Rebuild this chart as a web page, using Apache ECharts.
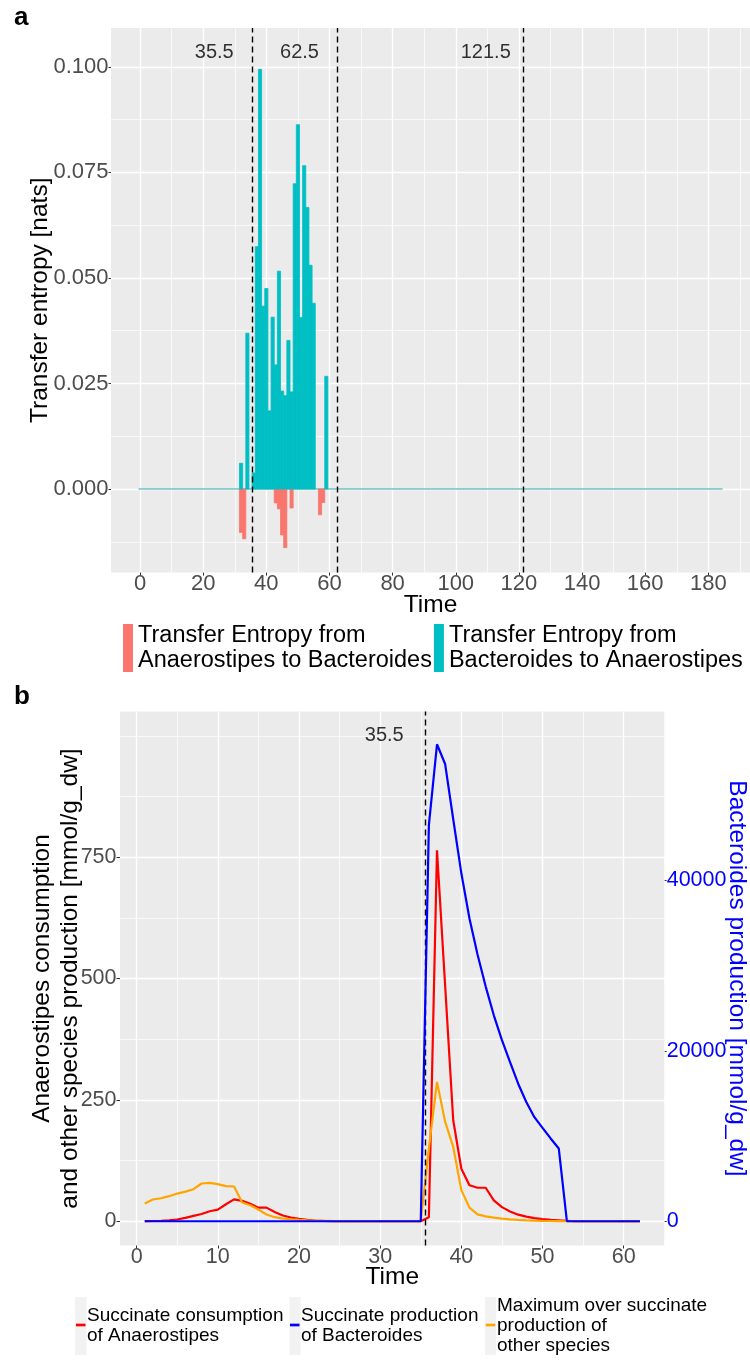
<!DOCTYPE html>
<html>
<head>
<meta charset="utf-8">
<script src="https://cdn.jsdelivr.net/npm/echarts@6/dist/echarts.min.js"></script>
<style>html,body{margin:0;padding:0;background:#fff}#c{width:750px;height:1360px}</style>
</head>
<body>
<div id="c"></div>
<script>
// ---------------- Panel a data ----------------
const timeSpanA = [0, 184];
const timesBtoA = [32,34,36,37,38,39,40,41,42,43,44,45,46,47,48,49,50,51,52,53,54,55,59];
const teBtoA = [0.0061,0.0369,0.0038,0.0574,0.0994,0.0433,0.0475,0.0185,0.0407,0.0294,0.0516,0.0232,0.0221,0.0352,0.0230,0.0723,0.0863,0.0406,0.0766,0.0667,0.0530,0.0440,0.0267];
const timesAtoB = [32,33,43,44,45,46,48,57,58];
const teAtoB = [-0.0103,-0.0118,-0.0033,-0.0047,-0.0109,-0.0139,-0.0045,-0.0061,-0.0032];
const cutsA = [35.5, 62.5, 121.5];
const ticksXA = [0,20,40,60,80,100,120,140,160,180];
const minorXA = [10,30,50,70,90,110,130,150,170,190];
const ticksYA = [0,0.025,0.05,0.075,0.1];
const minorYA = [-0.0125,0.0125,0.0375,0.0625,0.0875];
const labelYA = 0.1033;
const labelShiftA = 12;

// ---------------- Panel b data ----------------
const timeB = [1,2,3,4,5,6,7,8,9,10,11,12,13,14,15,16,17,18,19,20,21,22,23,24,25,26,27,28,29,30,31,32,33,34,35,36,37,38,39,40,41,42,43,44,45,46,47,48,49,50,51,52,53,54,55,56,57,58,59,60,61,62];
const redB = [0.2,0.5,1.0,1.8,3.5,6.9,11,15,20.6,24,35,45,42,36,28,28,19,11.7,7.6,4.8,2.7,1.5,0.8,0.4,0.2,0.1,
  0,0,0,0,0,0,0,0,0,
  8,764,486,208,108,74,69,69,43,29,20,13.5,9.5,6.5,4.5,3,2,1,
  0,0,0,0,0,0,0,0,0];
const orangeB = [36.4,44.7,47.4,51.6,57,61,66,77.7,79,76.3,72.2,71.5,38.5,33,24,13.8,8.3,5.5,4.1,2.8,2,1.4,1,0.6,0.4,0.2,0.1,
  0,0,0,0,0,0,0,0,
  150,287,205,153,64,28,14,10,7.5,5.5,4,2.8,1.8,1.2,0.8,0.5,0.3,0,
  0,0,0,0,0,0,0,0,0];
const blueB = [0,0,0,0,0,0,0,0,0,0,0,0,0,0,0,0,0,0,0,0,0,0,0,0,0,0,0,0,0,0,0,0,0,0,0,
  46520,56000,53690,47200,40850,35540,31290,27550,24180,21260,18680,16150,14000,12220,10970,9720,8540,0,
  0,0,0,0,0,0,0,0,0];
const cutsB = [35.5];
const ticksXB = [0,10,20,30,40,50,60];
const minorXB = [5,15,25,35,45,55,65];
const ticksYB = [0,250,500,750];
const minorYB = [125,375,625,875,1000];
const ticksYB2 = [0,20000,40000];
const secScale = 57;
const labelYB = 1000;
const labelShiftB = 5;

// ---------------- helpers ----------------
const FONT = 'Liberation Sans';
const nameAtoB = 'Transfer Entropy from Anaerostipes to Bacteroides';
const nameBtoA = 'Transfer Entropy from Bacteroides to Anaerostipes';
const nameRed = 'Succinate consumption of Anaerostipes';
const nameBlue = 'Succinate production of Bacteroides';
const nameOrange = 'Maximum over succinate production of other species';

function majorAxis(o) {
  return {
    type: 'value', gridIndex: o.grid, min: o.min, max: o.max, position: o.position,
    axisLine: {show: false, onZero: false},
    axisTick: {show: true, customValues: o.ticks, length: o.tickLen, lineStyle: {color: '#333333', width: 1}},
    axisLabel: {show: true, customValues: o.ticks, margin: o.margin, fontSize: o.fontSize,
      color: o.color || '#4D4D4D', fontFamily: FONT, formatter: o.formatter},
    splitLine: {show: o.split !== false, lineStyle: {color: '#FFFFFF', width: 1.4}}
  };
}
function minorAxis(grid, min, max, vals, position) {
  return {
    type: 'value', gridIndex: grid, min: min, max: max, position: position,
    axisLine: {show: false, onZero: false},
    axisTick: {show: false, customValues: vals},
    axisLabel: {show: false, customValues: vals},
    splitLine: {show: true, lineStyle: {color: '#FFFFFF', width: 0.7}}
  };
}
function barItem(params, api) {
  const t = api.value(0), v = api.value(1);
  const p0 = api.coord([t - 0.5, 0]);
  const p1 = api.coord([t + 0.5, v]);
  const col = api.visual('color');
  return {
    type: 'rect',
    shape: {x: p0[0], y: Math.min(p0[1], p1[1]), width: p1[0] - p0[0], height: Math.abs(p1[1] - p0[1])},
    style: {fill: col, stroke: col, lineWidth: 0.8}
  };
}
const dashed = {type: [6, 4], color: '#000000', width: 1.4};

const yMinA = -0.0198, yMaxA = 0.1092;
const xMinA = -9.2, xMaxA = 193.2;
const xMinB = -2.05, xMaxB = 65.05;
const yMinB = -50, yMaxB = 1050;

const option = {
  animation: false,
  textStyle: {fontFamily: FONT},
  grid: [
    {left: 111, top: 28, width: 639, height: 544.6, show: true, backgroundColor: '#EBEBEB', borderWidth: 0, containLabel: false, outerBoundsMode: 'none'},
    {left: 120, top: 711.5, width: 544.7, height: 534, show: true, backgroundColor: '#EBEBEB', borderWidth: 0, containLabel: false, outerBoundsMode: 'none'}
  ],
  xAxis: [
    majorAxis({grid: 0, min: xMinA, max: xMaxA, position: 'bottom', ticks: ticksXA, tickLen: 3, margin: 0.5, fontSize: 22}),
    minorAxis(0, xMinA, xMaxA, minorXA, 'bottom'),
    majorAxis({grid: 1, min: xMinB, max: xMaxB, position: 'bottom', ticks: ticksXB, tickLen: 3, margin: 0.5, fontSize: 21.5}),
    minorAxis(1, xMinB, xMaxB, minorXB, 'bottom')
  ],
  yAxis: [
    majorAxis({grid: 0, min: yMinA, max: yMaxA, position: 'left', ticks: ticksYA, tickLen: 2.5, margin: 2.5, fontSize: 22,
      formatter: v => Number(v).toFixed(3)}),
    minorAxis(0, yMinA, yMaxA, minorYA, 'left'),
    majorAxis({grid: 1, min: yMinB, max: yMaxB, position: 'left', ticks: ticksYB, tickLen: 3.5, margin: 3.5, fontSize: 21.5,
      formatter: v => String(v)}),
    minorAxis(1, yMinB, yMaxB, minorYB, 'left'),
    majorAxis({grid: 1, min: yMinB * secScale, max: yMaxB * secScale, position: 'right', ticks: ticksYB2, tickLen: 2, margin: 2, fontSize: 21.5,
      color: '#0000FF', split: false, formatter: v => String(v)})
  ],
  legend: {
    left: 123, top: 623, padding: 0, orient: 'horizontal', itemWidth: 10, itemHeight: 48, itemGap: 2,
    icon: 'rect', selectedMode: false, data: [nameAtoB, nameBtoA],
    formatter: n => n.replace('from ', 'from\n'),
    textStyle: {fontSize: 23.5, lineHeight: 25, color: '#000000', fontFamily: FONT}
  },
  series: [
    {type: 'line', name: 'zeroA', xAxisIndex: 0, yAxisIndex: 0, silent: true, symbol: 'none', z: 2,
      data: [[timeSpanA[0] - 0.5, 0], [timeSpanA[1] + 0.5, 0]],
      lineStyle: {color: '#2AA6AA', width: 1}},
    {type: 'custom', name: nameAtoB, xAxisIndex: 0, yAxisIndex: 0, renderItem: barItem, z: 3,
      itemStyle: {color: '#F8766D'}, encode: {x: 0, y: 1},
      data: timesAtoB.map((t, i) => [t, teAtoB[i]])},
    {type: 'custom', name: nameBtoA, xAxisIndex: 0, yAxisIndex: 0, renderItem: barItem, z: 3,
      itemStyle: {color: '#00BFC4'}, encode: {x: 0, y: 1},
      data: timesBtoA.map((t, i) => [t, teBtoA[i]]),
      markLine: {silent: true, symbol: ['none', 'none'], label: {show: false}, lineStyle: dashed,
        data: cutsA.map(c => ({xAxis: c}))}},
    {type: 'scatter', name: 'cutLabelsA', xAxisIndex: 0, yAxisIndex: 0, silent: true, symbolSize: 0, z: 6,
      data: cutsA.map(c => [c - labelShiftA, labelYA, c]),
      label: {show: true, position: 'inside', formatter: p => String(p.data[2]), fontSize: 20, color: '#000000', fontFamily: FONT}},

    {type: 'line', name: nameRed, xAxisIndex: 2, yAxisIndex: 2, symbol: 'none', z: 3,
      data: timeB.map((t, i) => [t, redB[i]]),
      lineStyle: {color: '#FF0000', width: 2.2}, itemStyle: {color: '#FF0000'}},
    {type: 'line', name: nameOrange, xAxisIndex: 2, yAxisIndex: 2, symbol: 'none', z: 4,
      data: timeB.map((t, i) => [t, orangeB[i]]),
      lineStyle: {color: '#FFA500', width: 2.2}, itemStyle: {color: '#FFA500'}},
    {type: 'line', name: nameBlue, xAxisIndex: 2, yAxisIndex: 4, symbol: 'none', z: 5,
      data: timeB.map((t, i) => [t, blueB[i]]),
      lineStyle: {color: '#0000FF', width: 2.2}, itemStyle: {color: '#0000FF'},
      markLine: {silent: true, symbol: ['none', 'none'], label: {show: false}, lineStyle: dashed,
        data: cutsB.map(c => ({xAxis: c}))}},
    {type: 'scatter', name: 'cutLabelsB', xAxisIndex: 2, yAxisIndex: 2, silent: true, symbolSize: 0, z: 6,
      data: cutsB.map(c => [c - labelShiftB, labelYB, c]),
      label: {show: true, position: 'inside', formatter: p => String(p.data[2]), fontSize: 20, color: '#000000', fontFamily: FONT}}
  ],
  graphic: [
    {type: 'text', x: 14, y: 17.5, style: {text: 'a', fontSize: 26, fontWeight: 'bold', fontFamily: FONT, fill: '#000', align: 'left', verticalAlign: 'middle'}},
    {type: 'text', x: 14, y: 697, style: {text: 'b', fontSize: 26, fontWeight: 'bold', fontFamily: FONT, fill: '#000', align: 'left', verticalAlign: 'middle'}},
    {type: 'text', x: 40, y: 300.3, rotation: Math.PI / 2, style: {text: 'Transfer entropy [nats]', fontSize: 24.5, fontFamily: FONT, fill: '#000', align: 'center', verticalAlign: 'middle'}},
    {type: 'text', x: 430.5, y: 605, style: {text: 'Time', fontSize: 24.5, fontFamily: FONT, fill: '#000', align: 'center', verticalAlign: 'middle'}},
    {type: 'text', x: 56, y: 978.5, rotation: Math.PI / 2, style: {text: 'Anaerostipes consumption\nand other species production [mmol/g_dw]', fontSize: 24.5, lineHeight: 28, fontFamily: FONT, fill: '#000', align: 'center', verticalAlign: 'middle'}},
    {type: 'text', x: 737, y: 978.5, rotation: -Math.PI / 2, style: {text: 'Bacteroides production [mmol/g_dw]', fontSize: 24.5, fontFamily: FONT, fill: '#0000FF', align: 'center', verticalAlign: 'middle'}},
    {type: 'text', x: 392.3, y: 1277, style: {text: 'Time', fontSize: 24.5, fontFamily: FONT, fill: '#000', align: 'center', verticalAlign: 'middle'}},
    // legend b
    {type: 'rect', shape: {x: 75, y: 1297, width: 11.7, height: 58}, style: {fill: '#F2F2F2'}},
    {type: 'line', shape: {x1: 76, y1: 1325, x2: 85.5, y2: 1325}, style: {stroke: '#FF0000', lineWidth: 2.7}},
    {type: 'text', x: 87, y: 1326, style: {text: 'Succinate consumption\nof Anaerostipes', fontSize: 19, lineHeight: 20, fontFamily: FONT, fill: '#000', align: 'left', verticalAlign: 'middle'}},
    {type: 'rect', shape: {x: 289.3, y: 1297, width: 11.4, height: 58}, style: {fill: '#F2F2F2'}},
    {type: 'line', shape: {x1: 290, y1: 1325, x2: 299.5, y2: 1325}, style: {stroke: '#0000FF', lineWidth: 2.7}},
    {type: 'text', x: 301, y: 1326, style: {text: 'Succinate production\nof Bacteroides', fontSize: 19, lineHeight: 20, fontFamily: FONT, fill: '#000', align: 'left', verticalAlign: 'middle'}},
    {type: 'rect', shape: {x: 485, y: 1297, width: 11.2, height: 58}, style: {fill: '#F2F2F2'}},
    {type: 'line', shape: {x1: 485.7, y1: 1325, x2: 495.2, y2: 1325}, style: {stroke: '#FFA500', lineWidth: 2.7}},
    {type: 'text', x: 497, y: 1326, style: {text: 'Maximum over succinate\nproduction of\nother species', fontSize: 19, lineHeight: 20, fontFamily: FONT, fill: '#000', align: 'left', verticalAlign: 'middle'}}
  ]
};

const chart = echarts.init(document.getElementById('c'), null, {renderer: 'canvas', width: 750, height: 1360});
chart.setOption(option);
</script>
</body>
</html>
